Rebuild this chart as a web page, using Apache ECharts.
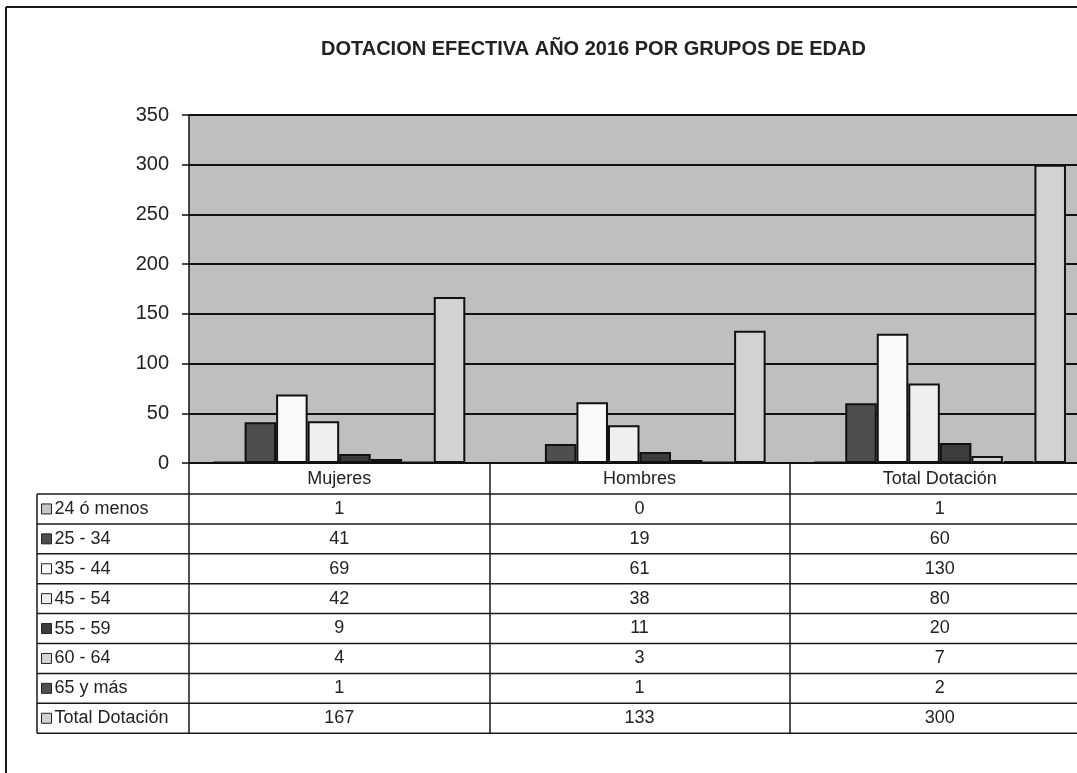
<!DOCTYPE html>
<html>
<head>
<meta charset="utf-8">
<script src="https://cdn.jsdelivr.net/npm/echarts@6/dist/echarts.min.js"></script>
<style>
  html, body { margin: 0; background: #fff; overflow: hidden; }
  #chart { width: 1077px; height: 773px; }
</style>
</head>
<body>
<div id="chart"></div>
<script>
// categories along the x axis
var categories = ['Mujeres', 'Hombres', 'Total Dotación'];
// age groups (series)
var groups = ['24 ó menos', '25 - 34', '35 - 44', '45 - 54', '55 - 59', '60 - 64', '65 y más', 'Total Dotación'];
var g24 = [1, 0, 1];
var g25 = [41, 19, 60];
var g35 = [69, 61, 130];
var g45 = [42, 38, 80];
var g55 = [9, 11, 20];
var g60 = [4, 3, 7];
var g65 = [1, 1, 2];
var gTotal = [167, 133, 300];
var groupValues = [g24, g25, g35, g45, g55, g60, g65, gTotal];
// y axis ticks
var yMin = 0, yMax = 350, yStep = 50;

var colors = ['#c6c6c6', '#4e4e4e', '#fafafa', '#efefef', '#3c3c3c', '#d4d4d4', '#505050', '#d2d2d2'];
var font = "'Liberation Sans', Arial, sans-serif";

var rowTop = 494, rowH = 29.9;

var series = groups.map(function (g, i) {
    return {
        name: g,
        type: 'bar',
        data: groupValues[i],
        barGap: 0,
        barCategoryGap: '16%',
        itemStyle: { color: colors[i], borderColor: '#111', borderWidth: 2 },
        silent: true
    };
});

function hline(x1, x2, y, z) {
    return { type: 'line', z: z, shape: { x1: x1, y1: y, x2: x2, y2: y }, style: { stroke: '#1a1a1a', lineWidth: 1.5 } };
}
function vline(x, y1, y2, z) {
    return { type: 'line', z: z, shape: { x1: x, y1: y1, x2: x, y2: y2 }, style: { stroke: '#1a1a1a', lineWidth: 1.5 } };
}

// table grid lines
var lines = [];
for (var k = 0; k <= groups.length; k++) {
    lines.push(hline(37, 1077, rowTop + k * rowH, 10));
}
lines.push(vline(37, rowTop, rowTop + groups.length * rowH, 10));
// outer frame (only top and left edges are inside the picture)
var frameTop = hline(6, 1077, 7, 0);
frameTop.style.lineWidth = 2;
var frameLeft = vline(6, 7, 773, 0);
frameLeft.style.lineWidth = 2;
lines.push(frameTop, frameLeft);

var option = {
    animation: false,
    backgroundColor: '#fff',
    color: colors,
    title: {
        text: 'DOTACION EFECTIVA AÑO 2016 POR GRUPOS DE EDAD',
        left: 316,
        top: 34,
        textStyle: { fontFamily: font, fontSize: 20, fontWeight: 'bold', color: '#222' }
    },
    legend: {
        data: groups,
        orient: 'vertical',
        left: 41,
        top: rowTop,
        padding: 0,
        itemGap: 0,
        itemWidth: 10,
        itemHeight: 10,
        icon: 'rect',
        selectedMode: false,
        itemStyle: { borderColor: '#222', borderWidth: 1 },
        textStyle: { fontFamily: font, fontSize: 18, color: '#222', lineHeight: rowH, padding: [0, 0, 0, -2] }
    },
    grid: {
        left: 189, top: 115, width: 901, height: 348,
        outerBoundsMode: 'none',
        containLabel: false,
        show: true, backgroundColor: '#bfbfbf', borderWidth: 0
    },
    xAxis: {
        type: 'category',
        data: categories,
        axisLine: { show: true, lineStyle: { color: '#111', width: 2 } },
        axisTick: { show: true, length: groups.length * rowH + (rowTop - 463), lineStyle: { color: '#1a1a1a', width: 1.5 } },
        axisLabel: {
            interval: 0,
            margin: 1,
            verticalAlign: 'top',
            fontFamily: font,
            fontSize: 18,
            color: '#222',
            lineHeight: rowH,
            formatter: function (name, idx) {
                return [name].concat(groupValues.map(function (arr) { return arr[idx]; })).join('\n');
            }
        }
    },
    yAxis: {
        type: 'value',
        min: yMin, max: yMax, interval: yStep,
        axisLine: { show: true, lineStyle: { color: '#111', width: 1.5 } },
        axisTick: { show: true, length: 7, lineStyle: { color: '#111', width: 1.5 } },
        axisLabel: { fontFamily: font, fontSize: 20, color: '#222', margin: 20 },
        splitLine: { show: true, lineStyle: { color: '#111', width: 2 } }
    },
    graphic: lines,
    series: series
};

var chart = echarts.init(document.getElementById('chart'));
chart.setOption(option);
</script>
</body>
</html>
